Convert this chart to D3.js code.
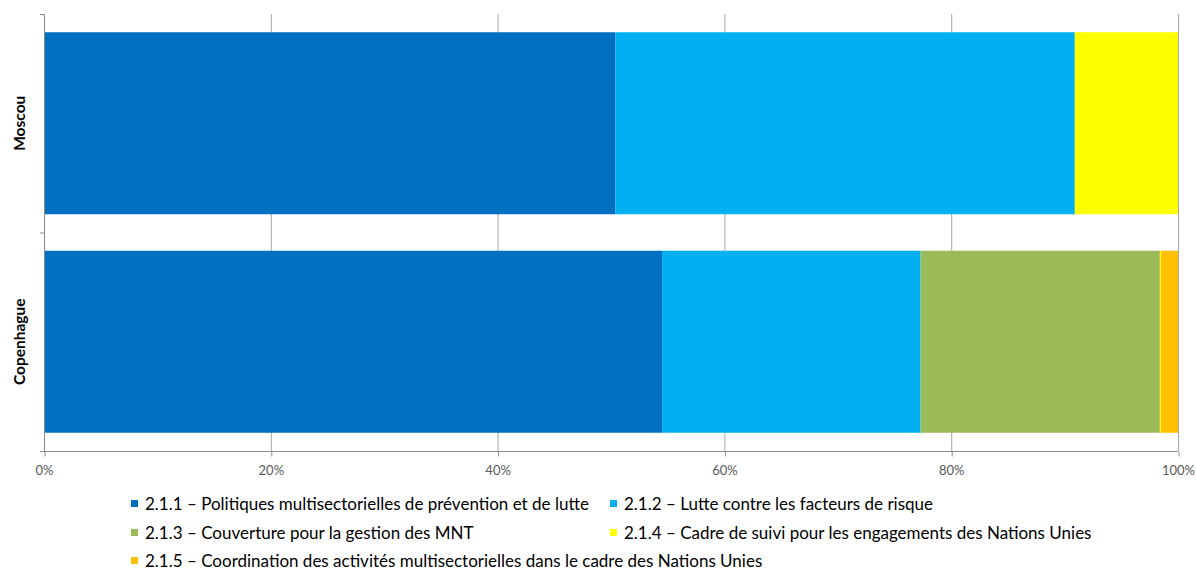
<!DOCTYPE html>
<html><head><meta charset="utf-8">
<script src="https://cdn.jsdelivr.net/npm/d3@7"></script>
<style>body{margin:0;background:#fff;} svg{display:block;}</style>
</head><body>
<script>
const categories = ["Moscou", "Copenhague"];
const seriesNames = [
  "2.1.1 – Politiques multisectorielles de prévention et de lutte",
  "2.1.2 – Lutte contre les facteurs de risque",
  "2.1.3 – Couverture pour la gestion des MNT",
  "2.1.4 – Cadre de suivi pour les engagements des Nations Unies",
  "2.1.5 – Coordination des activités multisectorielles dans le cadre des Nations Unies"
];
const s211 = [50.4, 54.5];
const s212 = [40.5, 22.8];
const s213 = [0, 21.1];
const s214 = [9.1, 0.1];
const s215 = [0, 1.5];
const colors = ["#0070C0", "#00B0F0", "#9BBB59", "#FFFF00", "#FFC000"];
const tickValues = [0, 0.2, 0.4, 0.6, 0.8, 1.0];

const W = 1196, H = 572;
const svg = d3.select("body").append("svg").attr("width", W).attr("height", H);
const font = "Lato, 'Open Sans', sans-serif";

const allSeries = [s211, s212, s213, s214, s215];
const rows = categories.map((c, i) => {
  const o = {cat: c};
  const tot = allSeries.reduce((a, s) => a + s[i], 0);
  allSeries.forEach((s, k) => o["k" + k] = s[i] / tot);
  return o;
});
const keys = allSeries.map((s, k) => "k" + k);
const stacked = d3.stack().keys(keys)(rows);

const x = d3.scaleLinear().domain([0, 1]).range([44, 1178]);
const y = d3.scaleBand().domain(categories).range([14, 451]).paddingInner(0.167).paddingOuter(0.0835);

// gridlines
svg.append("g").selectAll("line").data(tickValues.slice(1)).join("line")
  .attr("x1", d => x(d) + 0.5).attr("x2", d => x(d) + 0.5)
  .attr("y1", 14).attr("y2", 451)
  .attr("stroke", "#a6a6a6").attr("stroke-width", 1);

// bars
svg.append("g").selectAll("g").data(stacked).join("g")
  .attr("fill", (d, i) => colors[i])
  .selectAll("rect").data(d => d).join("rect")
  .attr("x", d => x(d[0]))
  .attr("width", d => Math.max(0, x(d[1]) - x(d[0])))
  .attr("y", d => y(d.data.cat))
  .attr("height", y.bandwidth());

// x axis
const xAxis = d3.axisBottom(x).tickValues(tickValues).tickFormat(d3.format(".0%")).tickSize(5).tickSizeOuter(0);
const gx = svg.append("g").attr("transform", "translate(0,451.5)").call(xAxis);
gx.select(".domain").attr("stroke", "#8c8c8c").attr("d", "M40,0H1178");
gx.selectAll(".tick line").attr("stroke", "#8c8c8c").attr("transform", "translate(0.5,0)");
gx.selectAll(".tick text").attr("fill", "#595959").attr("font-family", font).attr("font-size", 13).attr("dy", "1.2em");

// y axis
const yAxisLine = svg.append("g");
yAxisLine.append("line").attr("x1", 44.5).attr("x2", 44.5).attr("y1", 14).attr("y2", 451)
  .attr("stroke", "#8c8c8c");
const yTicks = [14, y.step() + 14, 451];
yAxisLine.selectAll("line.t").data(yTicks).join("line").attr("class", "t")
  .attr("x1", 40).attr("x2", 44.5).attr("y1", d => d + 0.5).attr("y2", d => d + 0.5)
  .attr("stroke", "#8c8c8c");

// category labels
svg.append("g").selectAll("text").data(categories).join("text")
  .attr("transform", d => `translate(25,${y(d) + y.bandwidth() / 2}) rotate(-90)`)
  .attr("text-anchor", "middle")
  .attr("font-family", font).attr("font-weight", "bold").attr("font-size", 15.5)
  .attr("fill", "#000").text(d => d);

// legend
const legPos = [[131, 504], [610, 504], [131, 533], [610, 533], [131, 561]];
const lg = svg.append("g").selectAll("g").data(seriesNames).join("g")
  .attr("transform", (d, i) => `translate(${legPos[i][0]},${legPos[i][1]})`);
lg.append("rect").attr("x", 0).attr("y", -4).attr("width", 7).attr("height", 7)
  .attr("fill", (d, i) => colors[i]);
lg.append("text").attr("x", 14).attr("y", 0).attr("dy", "0.35em")
  .attr("font-family", font).attr("font-size", 17).attr("fill", "#000").text(d => d);
</script>
</body></html>
